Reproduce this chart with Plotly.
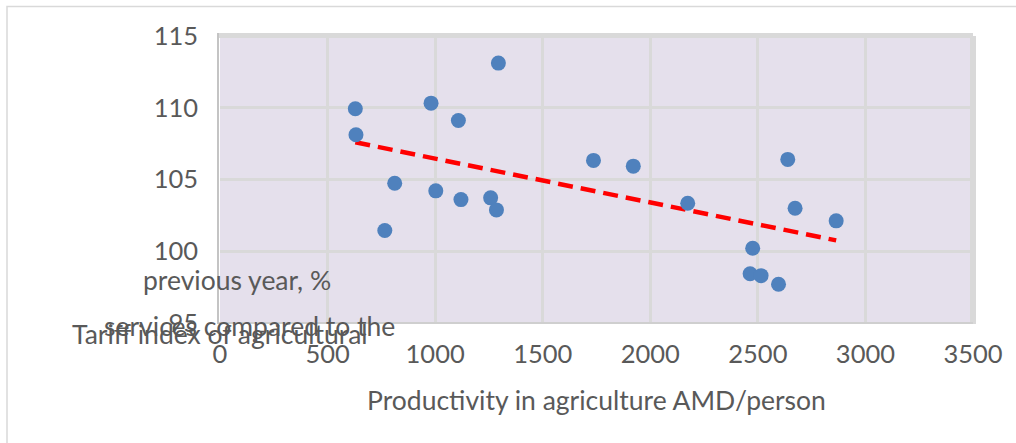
import numpy as np
import plotly.graph_objects as go

# Labour productivity in agriculture (AMD/person) vs. tariff index (%)
productivity = [629, 632, 981, 1108, 1294, 812, 1003, 1120, 1258, 1285, 766,
                1736, 1921, 2174, 2639, 2673, 2864, 2476, 2464, 2515, 2596]
tariff_index = [109.93, 108.12, 110.32, 109.11, 113.11, 104.74, 104.21, 103.60,
                103.72, 102.88, 101.45, 106.33, 105.93, 103.35, 106.40, 103.00,
                102.12, 100.21, 98.43, 98.30, 97.70]

x_ticks = [0, 500, 1000, 1500, 2000, 2500, 3000, 3500]
y_ticks = [95, 100, 105, 110, 115]

x_title = "Productivity in agriculture AMD/person"
y_title_lines = ["previous year, %", "services compared to the", "Tariff index of agricultural"]

W, H = 1016, 443
L, R, T, B = 220, 43, 36, 120
plot_w = W - L - R
plot_h = H - T - B


def px_x(p):
    return (p - L) / plot_w


def px_y(p):
    return (H - B - p) / plot_h


# linear trend over the observed range
slope, intercept = np.polyfit(productivity, tariff_index, 1)
trend_x = np.array([min(productivity), max(productivity)])
trend_y = slope * trend_x + intercept

FONT = "Lato, 'Open Sans', sans-serif"
GREY = "#595959"
TICK_SIZE = 25.5
TITLE_SIZE = 26.5

fig = go.Figure()
fig.add_trace(go.Scatter(
    x=trend_x, y=trend_y, mode="lines",
    line=dict(color="#FF0000", width=4.5, dash="15px,8px"),
    hoverinfo="skip", showlegend=False,
))
fig.add_trace(go.Scatter(
    x=productivity, y=tariff_index, mode="markers",
    marker=dict(color="#4F81BD", size=15, line=dict(width=0)),
    showlegend=False,
))

fig.update_layout(
    width=W, height=H,
    margin=dict(l=L, r=R, t=T, b=B, pad=0),
    paper_bgcolor="white",
    plot_bgcolor="#E5E0EC",
    font=dict(family=FONT, color=GREY, size=TICK_SIZE),
    showlegend=False,
)
fig.update_xaxes(
    range=[0, 3500], tickvals=x_ticks, ticktext=[str(v) for v in x_ticks],
    showgrid=True, gridcolor="#D9D9D9", gridwidth=3,
    zeroline=False, showline=False, ticks="",
    ticklabelstandoff=13,
    tickfont=dict(family=FONT, size=TICK_SIZE, color=GREY),
)
fig.update_yaxes(
    range=[95, 115], tickvals=y_ticks, ticktext=[str(v) for v in y_ticks],
    showgrid=True, gridcolor="#D9D9D9", gridwidth=3,
    zeroline=False, showline=False, ticks="",
    ticklabelstandoff=21,
    tickfont=dict(family=FONT, size=TICK_SIZE, color=GREY),
)

shapes = [
    # outer chart frame
    dict(type="rect", xref="paper", yref="paper",
         x0=px_x(7), x1=px_x(1030), y0=px_y(460), y1=px_y(6.5),
         line=dict(color="#D9D9D9", width=1.5), layer="below"),
    # plot area edges
    dict(type="line", xref="paper", yref="paper",
         x0=px_x(217), x1=px_x(973), y0=px_y(35.5), y1=px_y(35.5),
         line=dict(color="#D9D9D9", width=5)),
    dict(type="line", xref="paper", yref="paper",
         x0=px_x(973), x1=px_x(973), y0=px_y(36), y1=px_y(324),
         line=dict(color="#D9D9D9", width=6)),
    dict(type="line", xref="paper", yref="paper",
         x0=px_x(217), x1=px_x(973), y0=px_y(323), y1=px_y(323),
         line=dict(color="#CFCFCF", width=2)),
    dict(type="line", xref="paper", yref="paper",
         x0=px_x(218), x1=px_x(218), y0=px_y(33), y1=px_y(324),
         line=dict(color="#C4C4C4", width=2)),
]
fig.update_layout(shapes=shapes)


def label(text, cx, cy, size):
    return dict(text=text, x=px_x(cx), y=px_y(cy), xref="paper", yref="paper",
                xanchor="center", yanchor="middle", showarrow=False,
                font=dict(family=FONT, size=size, color=GREY))


annotations = [
    label(x_title, 596.5, 400, TITLE_SIZE),
    label(y_title_lines[0], 236.5, 280, TITLE_SIZE),
    label(y_title_lines[1], 249, 326, TITLE_SIZE),
    label(y_title_lines[2], 220, 334, TITLE_SIZE),
]
fig.update_layout(annotations=annotations)

fig.write_html("out.html")
